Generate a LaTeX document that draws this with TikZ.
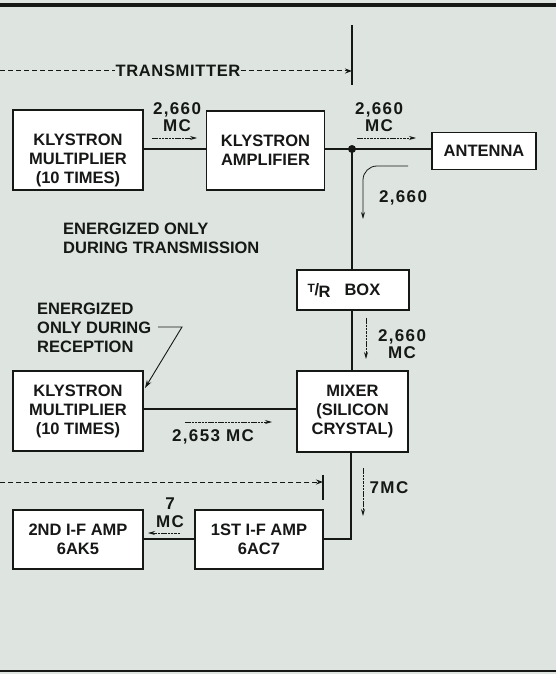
\documentclass[tikz,border=0pt]{standalone}
\usepackage{fontspec}
\setmainfont{Liberation Sans}
\usetikzlibrary{arrows.meta}
\definecolor{bgc}{RGB}{222,229,225}
\definecolor{ink}{RGB}{22,24,22}
\begin{document}
\begin{tikzpicture}[x=1pt,y=-1pt,
  every node/.style={font=\bfseries\fontsize{16.5}{19}\selectfont, text=ink, align=center, inner sep=0pt},
  blk/.style={draw=ink, line width=1.4pt, fill=white, rectangle},
  wire/.style={draw=ink, line width=2pt},
  sarrow/.style={draw=ink, line width=0.8pt, dash pattern=on 2.5pt off 0.8pt, -{Stealth[length=7pt,width=4pt]}},
  darrow/.style={draw=ink, line width=1pt, dash pattern=on 5pt off 3pt},
  lbl/.style={font=\bfseries\fontsize{17}{17.5}\selectfont\addfontfeature{LetterSpace=8}}
]
\useasboundingbox (0,0) rectangle (556,674);
\fill[bgc] (0,0) rectangle (556,674);
\draw[ink, line width=3.5pt] (0,5) -- (556,5);
\draw[ink, line width=2.5pt] (0,671) -- (556,671);

% transmitter marker
\node (tx) at (178,71) {\addfontfeature{LetterSpace=4}TRANSMITTER};
\coordinate (txL) at (0,71);
\coordinate (txbarT) at (352,25);
\coordinate (txbarB) at (352,85);
\coordinate (txR) at (352,71);
\draw[darrow] (txL) -- (tx.west);
\draw[darrow, -{Stealth[length=7pt,width=5pt]}] (tx.east) -- (txR);
\draw[ink, line width=1.3pt] (txbarT) -- (txbarB);

% boxes
\node[blk, minimum width=130pt, minimum height=80pt] (km1) at (78,150) {};
\node (km1t) at (78,160) {KLYSTRON\\MULTIPLIER\\(10 TIMES)};
\node[blk, minimum width=118pt, minimum height=79pt] (ka) at (265.5,150.5) {KLYSTRON\\AMPLIFIER};
\node[blk, minimum width=104pt, minimum height=37pt] (ant) at (484,151) {ANTENNA};
\node[blk, minimum width=112pt, minimum height=40pt] (tr) at (353,290) {};
\node (trt) at (344,291) {\raisebox{3pt}{\fontsize{12}{12}\selectfont T}\kern-0.5pt/\kern-0.5pt\raisebox{-2pt}{R}\hspace{14pt}BOX};
\node[blk, minimum width=111pt, minimum height=81pt] (mix) at (352.5,411.5) {MIXER\\(SILICON\\CRYSTAL)};
\node[blk, minimum width=130pt, minimum height=80pt] (km2) at (78,411) {KLYSTRON\\MULTIPLIER\\(10 TIMES)};
\node[blk, minimum width=128pt, minimum height=59pt] (if1) at (259,539.5) {1ST I-F AMP\\6AC7};
\node[blk, minimum width=130pt, minimum height=59pt] (if2) at (78,539.5) {2ND I-F AMP\\6AK5};

% junction
\coordinate (J) at (352,149);
\fill[ink] (J) circle (4pt);

% wires
\draw[wire] (km1.east |- 0,149) -- (ka.west |- 0,149);
\draw[wire] (ka.east |- J) -- (J) -- (ant.west |- J);
\draw[wire] (J) -- (J |- tr.north);
\draw[wire] (J |- tr.south) -- (J |- mix.north);
\draw[wire] (km2.east |- 0,409) -- (mix.west |- 0,409);
\coordinate (mb) at (351,539);
\draw[wire] (mb |- mix.south) -- (mb) -- (if1.east |- mb);
\draw[wire] (if1.west |- 0,539) -- (if2.east |- 0,539);

% labels and small arrows
\node[lbl] (l1) at (177,117) {2,660\\MC};
\coordinate (a1s) at (152,138); \coordinate (a1e) at (197,138);
\draw[sarrow] (a1s) -- (a1e);

\node[lbl] (l2) at (379,117) {2,660\\MC};
\coordinate (a2s) at (357,138); \coordinate (a2e) at (416,138);
\draw[sarrow] (a2s) -- (a2e);

\coordinate (c1) at (408,166); \coordinate (c2) at (363,219);
\draw[draw=ink, line width=0.8pt, -{Stealth[length=7pt,width=4pt]}] (c1) -- (377,166) to[out=180,in=90] (363,180) -- (c2);
\node[lbl] (l3) at (403,198) {2,660};

\node[anchor=west, align=left] (en1) at (63,238) {ENERGIZED ONLY\\DURING TRANSMISSION};
\node[anchor=west, align=left] (en2) at (37,328) {ENERGIZED\\ONLY DURING\\RECEPTION};
\coordinate (ld1) at (158,327); \coordinate (ld2) at (182,327); \coordinate (ld3) at (145,388);
\draw[ink, line width=0.9pt, -{Stealth[length=8pt,width=5pt]}] (ld1) -- (ld2) -- (ld3);

\coordinate (a3s) at (366,318); \coordinate (a3e) at (366,359);
\draw[sarrow] (a3s) -- (a3e);
\node[lbl] (l4) at (402,344) {2,660\\MC};

\coordinate (a4s) at (185,422); \coordinate (a4e) at (272,422);
\draw[sarrow] (a4s) -- (a4e);
\node[lbl] (l5) at (213,437) {2,653 MC};

% receiver marker
\coordinate (rxL) at (0,482); \coordinate (rxR) at (323,482);
\coordinate (rxbarT) at (323,475); \coordinate (rxbarB) at (323,500);
\draw[darrow, -{Stealth[length=7pt,width=5pt]}] (rxL) -- (rxR);
\draw[ink, line width=1.3pt] (rxbarT) -- (rxbarB);

\coordinate (a5s) at (363,468); \coordinate (a5e) at (363,516);
\draw[sarrow] (a5s) -- (a5e);
\node[lbl] (l6) at (389,488) {7MC};

\coordinate (a6s) at (180,533); \coordinate (a6e) at (148,533);
\draw[sarrow] (a6s) -- (a6e);
\node[lbl] (l7) at (170,512.5) {7\\MC};
\end{tikzpicture}
\end{document}
